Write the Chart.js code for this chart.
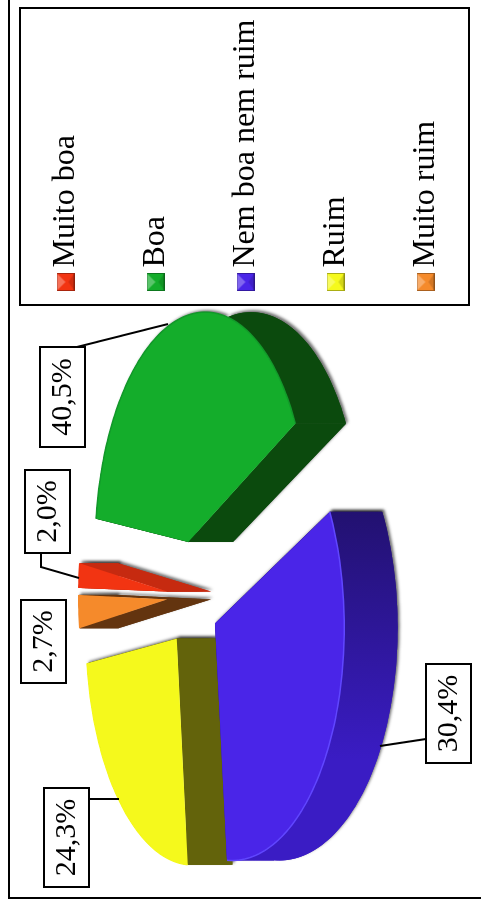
<!DOCTYPE html>
<html>
<head>
<meta charset="utf-8">
<script src="https://cdn.jsdelivr.net/npm/chart.js@4"></script>
<style>
    html, body { margin: 0; padding: 0; background: #fff; overflow: hidden; }
    /* the whole chart is lying on its side in the original */
    #pie { position: absolute; left: 0; top: 910px; transform-origin: 0 0; transform: rotate(-90deg); }
</style>
</head>
<body>
<canvas id="pie" width="910" height="540"></canvas>
<script>
const categories = ['Muito boa', 'Boa', 'Nem boa nem ruim', 'Ruim', 'Muito ruim'];
const percentValues = [2.0, 40.5, 30.4, 24.3, 2.7];

const topColors = ['#f23412', '#14ad2b', '#4a25e8', '#f5f91c', '#f58a2b'];
const rimColors = ['#f23412', '#12992a', '#6046ff', '#f5f91c', '#f58a2b'];
const wallColors = ['#c62a10', '#0b4a0d', '#3a1cc4', '#63630b', '#63340f'];
const wallFarColors = ['#c62a10', '#0b4a0d', '#221170', '#63630b', '#63340f'];

// boxes for the percent labels, in the same order as categories
const labelBoxes = [
    { x: 357, y: 25, w: 83, h: 45, line: [[357, 41], [343, 41], [332, 79]] },
    { x: 463, y: 40, w: 100, h: 45, line: [[562, 73], [586, 168]] },
    { x: 147, y: 426, w: 99, h: 45, line: [[171, 426], [164, 380]] },
    { x: 23, y: 44, w: 99, h: 45, line: [[111, 89], [111, 119]] },
    { x: 227, y: 21, w: 83, h: 45, line: [] }
];

// fake perspective for the tilted pie
const view = { cx: 314, cy: 192, rx: 228, ry: 106, k: 0.13, depth: 45 };

function project(dx, dy, z) {
    const s = 1 / (1 - view.k * dy);
    return { x: view.cx + view.rx * dx * s, y: view.cy + (view.ry * dy + z * view.depth) * s };
}

// small bevelled square for the legend, with empty room on the left
function legendMarker(color) {
    const c = document.createElement('canvas');
    c.width = 22;
    c.height = 18;
    const g = c.getContext('2d');
    g.fillStyle = color;
    g.fillRect(4, 0, 18, 18);
    const tri = (pts, style) => {
        g.fillStyle = style;
        g.beginPath();
        pts.forEach((p, i) => i ? g.lineTo(p[0], p[1]) : g.moveTo(p[0], p[1]));
        g.closePath();
        g.fill();
    };
    tri([[4, 0], [22, 0], [13, 9]], 'rgba(255,255,255,0.3)');
    tri([[4, 18], [22, 18], [13, 12]], 'rgba(0,0,0,0.14)');
    g.strokeStyle = 'rgba(0,0,0,0.3)';
    g.strokeRect(4.5, 0.5, 17, 17);
    return c;
}

function slicePoints(arc) {
    const offset = arc.options.offset / arc.outerRadius;
    const mid = (arc.startAngle + arc.endAngle) / 2;
    const ox = Math.cos(mid) * offset;
    const oy = Math.sin(mid) * offset;
    const rim = [];
    const steps = Math.max(4, Math.ceil((arc.endAngle - arc.startAngle) * 40));
    for (let i = 0; i <= steps; i++) {
        const a = arc.startAngle + (arc.endAngle - arc.startAngle) * i / steps;
        rim.push([ox + Math.cos(a), oy + Math.sin(a)]);
    }
    return { apex: [ox, oy], rim: rim, mid: oy };
}

function tracePath(ctx, pts) {
    ctx.beginPath();
    pts.forEach((p, i) => i ? ctx.lineTo(p.x, p.y) : ctx.moveTo(p.x, p.y));
    ctx.closePath();
}

const tiltedPie = {
    id: 'tiltedPie',
    afterLayout(chart) {
        // legend does not want to sit where the original had it
        chart.legend.left = 567.5;
        chart.legend.top = -8.5;
    },
    beforeDatasetsDraw(chart) {
        const ctx = chart.ctx;
        const arcs = chart.getDatasetMeta(0).data;
        const order = arcs.map((arc, i) => ({ i: i, pts: slicePoints(arc) }))
            .sort((a, b) => a.pts.mid - b.pts.mid);

        order.forEach(({ i, pts }) => {
            const top = p => project(p[0], p[1], 0);
            const low = p => project(p[0], p[1], 1);
            const first = pts.rim[0];
            const last = pts.rim[pts.rim.length - 1];
            const walls = [
                [top(pts.apex), top(first), low(first), low(pts.apex)],
                [top(pts.apex), top(last), low(last), low(pts.apex)],
                pts.rim.map(top).concat(pts.rim.slice().reverse().map(low))
            ];

            const grad = ctx.createLinearGradient(400, 0, 150, 0);
            grad.addColorStop(0, wallFarColors[i]);
            grad.addColorStop(1, wallColors[i]);

            ctx.save();
            ctx.fillStyle = grad;
            ctx.shadowColor = 'rgba(0,0,0,0.55)';
            ctx.shadowBlur = 3;
            ctx.shadowOffsetX = 2;
            ctx.shadowOffsetY = 2;
            walls.forEach(w => { tracePath(ctx, w); ctx.fill(); });
            ctx.shadowColor = 'transparent';
            walls.forEach(w => { tracePath(ctx, w); ctx.fill(); });

            ctx.fillStyle = topColors[i];
            tracePath(ctx, [top(pts.apex)].concat(pts.rim.map(top)));
            ctx.fill();

            // thin edge along the rim of the top face
            ctx.strokeStyle = rimColors[i];
            ctx.lineWidth = 1.5;
            ctx.beginPath();
            pts.rim.map(top).forEach((p, n) => n ? ctx.lineTo(p.x, p.y) : ctx.moveTo(p.x, p.y));
            ctx.stroke();
            ctx.restore();
        });
        return false;
    },
    afterDraw(chart) {
        const ctx = chart.ctx;
        ctx.save();
        ctx.strokeStyle = '#000';
        ctx.lineWidth = 2;

        // outer frame, only two sides are in the picture
        ctx.beginPath();
        ctx.moveTo(910, 9);
        ctx.lineTo(12, 9);
        ctx.lineTo(12, 481);
        ctx.stroke();

        // legend box
        ctx.strokeRect(605, 20, 297, 449);

        // percent labels and their leader lines
        ctx.font = '30px "Liberation Serif"';
        ctx.textAlign = 'center';
        ctx.textBaseline = 'middle';
        percentValues.forEach((v, i) => {
            const b = labelBoxes[i];
            if (b.line.length) {
                ctx.beginPath();
                b.line.forEach((p, n) => n ? ctx.lineTo(p[0], p[1]) : ctx.moveTo(p[0], p[1]));
                ctx.stroke();
            }
            ctx.fillStyle = '#fff';
            ctx.fillRect(b.x, b.y, b.w, b.h);
            ctx.strokeRect(b.x, b.y, b.w, b.h);
            ctx.fillStyle = '#000';
            ctx.fillText(v.toFixed(1).replace('.', ',') + '%', b.x + b.w / 2, b.y + b.h / 2 + 1);
        });
        ctx.restore();
    }
};

new Chart(document.getElementById('pie').getContext('2d'), {
    type: 'pie',
    data: {
        labels: categories,
        datasets: [{
            data: percentValues,
            backgroundColor: topColors,
            borderWidth: 0,
            offset: 58
        }]
    },
    options: {
        responsive: false,
        animation: false,
        devicePixelRatio: 1,
        rotation: 1.2,
        plugins: {
            tooltip: { enabled: false },
            legend: {
                position: 'right',
                align: 'start',
                labels: {
                    color: '#000',
                    font: { family: '"Liberation Serif"', size: 32 },
                    padding: 58,
                    usePointStyle: true,
                    pointStyleWidth: 1,
                    generateLabels(chart) {
                        return categories.map((name, i) => ({
                            text: name,
                            fillStyle: topColors[i],
                            strokeStyle: topColors[i],
                            lineWidth: 0,
                            pointStyle: legendMarker(topColors[i]),
                            hidden: false,
                            index: i
                        }));
                    }
                }
            }
        }
    },
    plugins: [tiltedPie]
});
</script>
</body>
</html>
